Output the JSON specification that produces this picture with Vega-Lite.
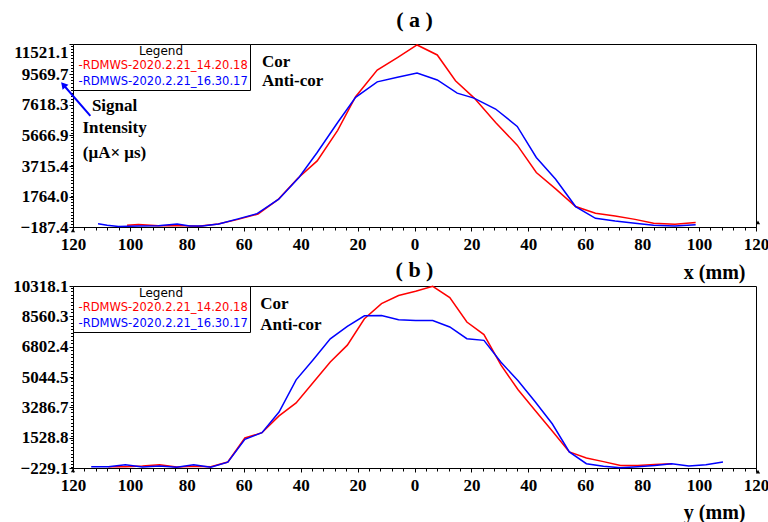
{
  "$schema": "https://vega.github.io/schema/vega-lite/v6.json",
  "background": "white",
  "padding": {"left": 12, "top": 8, "right": 5, "bottom": 2},
  "bounds": "flush",
  "spacing": 59,
  "resolve": {"legend": {"color": "independent"}, "scale": {"y": "independent"}},
  "config": {
    "view": {"stroke": "black", "strokeWidth": 1},
    "axis": {
      "labelFont": "Liberation Serif", "labelFontWeight": "bold", "labelFontSize": 17, "labelColor": "black",
      "domainColor": "black", "tickColor": "black", "grid": false, "labelOverlap": false,
      "titleFont": "Liberation Serif", "titleFontWeight": "bold", "titleFontSize": 20, "titleColor": "black"
    },
    "title": {"font": "Liberation Serif", "fontWeight": "bold", "fontSize": 22, "color": "black", "offset": 10},
    "legend": {
      "orient": "top-left", "offset": 0, "padding": 2, "strokeColor": "black", "fillColor": "white",
      "titleFont": "DejaVu Sans", "titleFontSize": 12, "titleFontWeight": "normal", "titleColor": "black",
      "titleAnchor": "middle", "titlePadding": 2,
      "labelFont": "DejaVu Sans", "labelFontSize": 11.5, "labelOffset": 0, "labelLimit": 400,
      "symbolSize": 0, "symbolOpacity": 0, "symbolStrokeWidth": 0, "rowPadding": 3.5
    }
  },
  "datasets": {
    "a": [
      {"s": "RDMWS-2020.2.21_14.20.18", "x": -101, "v": -80},
      {"s": "RDMWS-2020.2.21_14.20.18", "x": -97, "v": -30},
      {"s": "RDMWS-2020.2.21_14.20.18", "x": -90, "v": -100},
      {"s": "RDMWS-2020.2.21_14.20.18", "x": -83, "v": -90},
      {"s": "RDMWS-2020.2.21_14.20.18", "x": -76, "v": -140},
      {"s": "RDMWS-2020.2.21_14.20.18", "x": -69, "v": 10},
      {"s": "RDMWS-2020.2.21_14.20.18", "x": -62, "v": 300},
      {"s": "RDMWS-2020.2.21_14.20.18", "x": -55, "v": 640},
      {"s": "RDMWS-2020.2.21_14.20.18", "x": -48, "v": 1560},
      {"s": "RDMWS-2020.2.21_14.20.18", "x": -41, "v": 2930},
      {"s": "RDMWS-2020.2.21_14.20.18", "x": -34.2, "v": 4040},
      {"s": "RDMWS-2020.2.21_14.20.18", "x": -27, "v": 6000},
      {"s": "RDMWS-2020.2.21_14.20.18", "x": -20.7, "v": 8150},
      {"s": "RDMWS-2020.2.21_14.20.18", "x": -13.1, "v": 9850},
      {"s": "RDMWS-2020.2.21_14.20.18", "x": -6, "v": 10650},
      {"s": "RDMWS-2020.2.21_14.20.18", "x": 0.9, "v": 11460},
      {"s": "RDMWS-2020.2.21_14.20.18", "x": 8, "v": 10820},
      {"s": "RDMWS-2020.2.21_14.20.18", "x": 14.4, "v": 9170},
      {"s": "RDMWS-2020.2.21_14.20.18", "x": 21, "v": 8060},
      {"s": "RDMWS-2020.2.21_14.20.18", "x": 28.5, "v": 6500},
      {"s": "RDMWS-2020.2.21_14.20.18", "x": 36.1, "v": 5050},
      {"s": "RDMWS-2020.2.21_14.20.18", "x": 42.8, "v": 3300},
      {"s": "RDMWS-2020.2.21_14.20.18", "x": 49.6, "v": 2250},
      {"s": "RDMWS-2020.2.21_14.20.18", "x": 56.6, "v": 1120},
      {"s": "RDMWS-2020.2.21_14.20.18", "x": 63.6, "v": 690},
      {"s": "RDMWS-2020.2.21_14.20.18", "x": 70.5, "v": 510},
      {"s": "RDMWS-2020.2.21_14.20.18", "x": 77.5, "v": 300},
      {"s": "RDMWS-2020.2.21_14.20.18", "x": 84, "v": 50},
      {"s": "RDMWS-2020.2.21_14.20.18", "x": 91.5, "v": -10},
      {"s": "RDMWS-2020.2.21_14.20.18", "x": 98.8, "v": 95},
      {"s": "RDMWS-2020.2.21_16.30.17", "x": -111.2, "v": 20},
      {"s": "RDMWS-2020.2.21_16.30.17", "x": -108, "v": -80},
      {"s": "RDMWS-2020.2.21_16.30.17", "x": -104, "v": -150},
      {"s": "RDMWS-2020.2.21_16.30.17", "x": -97, "v": -130},
      {"s": "RDMWS-2020.2.21_16.30.17", "x": -90, "v": -110},
      {"s": "RDMWS-2020.2.21_16.30.17", "x": -83.4, "v": 10},
      {"s": "RDMWS-2020.2.21_16.30.17", "x": -79, "v": -120},
      {"s": "RDMWS-2020.2.21_16.30.17", "x": -74.6, "v": -130},
      {"s": "RDMWS-2020.2.21_16.30.17", "x": -68.8, "v": 5},
      {"s": "RDMWS-2020.2.21_16.30.17", "x": -61.7, "v": 350},
      {"s": "RDMWS-2020.2.21_16.30.17", "x": -55.3, "v": 670},
      {"s": "RDMWS-2020.2.21_16.30.17", "x": -47.7, "v": 1590},
      {"s": "RDMWS-2020.2.21_16.30.17", "x": -40.6, "v": 2980},
      {"s": "RDMWS-2020.2.21_16.30.17", "x": -34.2, "v": 4580},
      {"s": "RDMWS-2020.2.21_16.30.17", "x": -27, "v": 6500},
      {"s": "RDMWS-2020.2.21_16.30.17", "x": -20.7, "v": 8110},
      {"s": "RDMWS-2020.2.21_16.30.17", "x": -13.1, "v": 9100},
      {"s": "RDMWS-2020.2.21_16.30.17", "x": -6, "v": 9400},
      {"s": "RDMWS-2020.2.21_16.30.17", "x": 0.9, "v": 9670},
      {"s": "RDMWS-2020.2.21_16.30.17", "x": 8, "v": 9220},
      {"s": "RDMWS-2020.2.21_16.30.17", "x": 15, "v": 8380},
      {"s": "RDMWS-2020.2.21_16.30.17", "x": 20.9, "v": 8060},
      {"s": "RDMWS-2020.2.21_16.30.17", "x": 28.5, "v": 7360},
      {"s": "RDMWS-2020.2.21_16.30.17", "x": 36.1, "v": 6250},
      {"s": "RDMWS-2020.2.21_16.30.17", "x": 42.8, "v": 4260},
      {"s": "RDMWS-2020.2.21_16.30.17", "x": 49.6, "v": 2870},
      {"s": "RDMWS-2020.2.21_16.30.17", "x": 56.6, "v": 1120},
      {"s": "RDMWS-2020.2.21_16.30.17", "x": 63.6, "v": 370},
      {"s": "RDMWS-2020.2.21_16.30.17", "x": 70.5, "v": 200},
      {"s": "RDMWS-2020.2.21_16.30.17", "x": 77.5, "v": 60},
      {"s": "RDMWS-2020.2.21_16.30.17", "x": 84, "v": -80},
      {"s": "RDMWS-2020.2.21_16.30.17", "x": 91.5, "v": -120},
      {"s": "RDMWS-2020.2.21_16.30.17", "x": 98.8, "v": -40}
    ],
    "b": [
      {"s": "RDMWS-2020.2.21_14.20.18", "x": -107.6, "v": -160},
      {"s": "RDMWS-2020.2.21_14.20.18", "x": -101.6, "v": -150},
      {"s": "RDMWS-2020.2.21_14.20.18", "x": -95.6, "v": -120},
      {"s": "RDMWS-2020.2.21_14.20.18", "x": -89.6, "v": -38},
      {"s": "RDMWS-2020.2.21_14.20.18", "x": -83.6, "v": -170},
      {"s": "RDMWS-2020.2.21_14.20.18", "x": -77.6, "v": -130},
      {"s": "RDMWS-2020.2.21_14.20.18", "x": -71.6, "v": -150},
      {"s": "RDMWS-2020.2.21_14.20.18", "x": -65.6, "v": 120},
      {"s": "RDMWS-2020.2.21_14.20.18", "x": -59.6, "v": 1509},
      {"s": "RDMWS-2020.2.21_14.20.18", "x": -53.6, "v": 1816},
      {"s": "RDMWS-2020.2.21_14.20.18", "x": -47.6, "v": 2790},
      {"s": "RDMWS-2020.2.21_14.20.18", "x": -41.6, "v": 3540},
      {"s": "RDMWS-2020.2.21_14.20.18", "x": -35.6, "v": 4730},
      {"s": "RDMWS-2020.2.21_14.20.18", "x": -29.6, "v": 5910},
      {"s": "RDMWS-2020.2.21_14.20.18", "x": -23.6, "v": 6890},
      {"s": "RDMWS-2020.2.21_14.20.18", "x": -17.6, "v": 8420},
      {"s": "RDMWS-2020.2.21_14.20.18", "x": -11.6, "v": 9300},
      {"s": "RDMWS-2020.2.21_14.20.18", "x": -5.6, "v": 9770},
      {"s": "RDMWS-2020.2.21_14.20.18", "x": 0.4, "v": 10010},
      {"s": "RDMWS-2020.2.21_14.20.18", "x": 6.4, "v": 10300},
      {"s": "RDMWS-2020.2.21_14.20.18", "x": 12.4, "v": 9650},
      {"s": "RDMWS-2020.2.21_14.20.18", "x": 18.4, "v": 8232},
      {"s": "RDMWS-2020.2.21_14.20.18", "x": 24.4, "v": 7500},
      {"s": "RDMWS-2020.2.21_14.20.18", "x": 30.4, "v": 5730},
      {"s": "RDMWS-2020.2.21_14.20.18", "x": 36.4, "v": 4310},
      {"s": "RDMWS-2020.2.21_14.20.18", "x": 42.4, "v": 3100},
      {"s": "RDMWS-2020.2.21_14.20.18", "x": 48.4, "v": 1920},
      {"s": "RDMWS-2020.2.21_14.20.18", "x": 54.4, "v": 700},
      {"s": "RDMWS-2020.2.21_14.20.18", "x": 60.4, "v": 350},
      {"s": "RDMWS-2020.2.21_14.20.18", "x": 66.4, "v": 140},
      {"s": "RDMWS-2020.2.21_14.20.18", "x": 72.4, "v": -80},
      {"s": "RDMWS-2020.2.21_14.20.18", "x": 78.4, "v": -78},
      {"s": "RDMWS-2020.2.21_14.20.18", "x": 84.4, "v": -30},
      {"s": "RDMWS-2020.2.21_14.20.18", "x": 90.4, "v": 20},
      {"s": "RDMWS-2020.2.21_16.30.17", "x": -113.6, "v": -154},
      {"s": "RDMWS-2020.2.21_16.30.17", "x": -107.6, "v": -150},
      {"s": "RDMWS-2020.2.21_16.30.17", "x": -101.6, "v": -40},
      {"s": "RDMWS-2020.2.21_16.30.17", "x": -95.6, "v": -170},
      {"s": "RDMWS-2020.2.21_16.30.17", "x": -89.6, "v": -110},
      {"s": "RDMWS-2020.2.21_16.30.17", "x": -83.6, "v": -190},
      {"s": "RDMWS-2020.2.21_16.30.17", "x": -77.6, "v": -40},
      {"s": "RDMWS-2020.2.21_16.30.17", "x": -71.6, "v": -190},
      {"s": "RDMWS-2020.2.21_16.30.17", "x": -65.6, "v": 110},
      {"s": "RDMWS-2020.2.21_16.30.17", "x": -59.6, "v": 1430},
      {"s": "RDMWS-2020.2.21_16.30.17", "x": -53.6, "v": 1816},
      {"s": "RDMWS-2020.2.21_16.30.17", "x": -47.6, "v": 3016},
      {"s": "RDMWS-2020.2.21_16.30.17", "x": -41.6, "v": 4880},
      {"s": "RDMWS-2020.2.21_16.30.17", "x": -35.6, "v": 6046},
      {"s": "RDMWS-2020.2.21_16.30.17", "x": -29.6, "v": 7260},
      {"s": "RDMWS-2020.2.21_16.30.17", "x": -23.6, "v": 7980},
      {"s": "RDMWS-2020.2.21_16.30.17", "x": -17.6, "v": 8590},
      {"s": "RDMWS-2020.2.21_16.30.17", "x": -11.6, "v": 8613},
      {"s": "RDMWS-2020.2.21_16.30.17", "x": -5.6, "v": 8362},
      {"s": "RDMWS-2020.2.21_16.30.17", "x": 0.4, "v": 8320},
      {"s": "RDMWS-2020.2.21_16.30.17", "x": 6.4, "v": 8320},
      {"s": "RDMWS-2020.2.21_16.30.17", "x": 12.4, "v": 7942},
      {"s": "RDMWS-2020.2.21_16.30.17", "x": 18.4, "v": 7264},
      {"s": "RDMWS-2020.2.21_16.30.17", "x": 24.4, "v": 7168},
      {"s": "RDMWS-2020.2.21_16.30.17", "x": 30.4, "v": 5900},
      {"s": "RDMWS-2020.2.21_16.30.17", "x": 36.4, "v": 4825},
      {"s": "RDMWS-2020.2.21_16.30.17", "x": 42.4, "v": 3608},
      {"s": "RDMWS-2020.2.21_16.30.17", "x": 48.4, "v": 2334},
      {"s": "RDMWS-2020.2.21_16.30.17", "x": 54.4, "v": 700},
      {"s": "RDMWS-2020.2.21_16.30.17", "x": 60.4, "v": 20},
      {"s": "RDMWS-2020.2.21_16.30.17", "x": 66.4, "v": -130},
      {"s": "RDMWS-2020.2.21_16.30.17", "x": 72.4, "v": -212},
      {"s": "RDMWS-2020.2.21_16.30.17", "x": 78.4, "v": -150},
      {"s": "RDMWS-2020.2.21_16.30.17", "x": 84.4, "v": -90},
      {"s": "RDMWS-2020.2.21_16.30.17", "x": 90.4, "v": 20},
      {"s": "RDMWS-2020.2.21_16.30.17", "x": 96.4, "v": -113},
      {"s": "RDMWS-2020.2.21_16.30.17", "x": 102.4, "v": -38},
      {"s": "RDMWS-2020.2.21_16.30.17", "x": 108.4, "v": 118}
    ],
    "notesA": [
      {"t": "Cor", "x": -53.6, "v": 10368},
      {"t": "Anti-cor", "x": -53.6, "v": 9150}
    ],
    "notesB": [
      {"t": "Cor", "x": -54.2, "v": 9263},
      {"t": "Anti-cor", "x": -54.2, "v": 8075}
    ],
    "signal": [
      {"t": "Signal", "x": -105.4, "v": 7548},
      {"t": "Intensity", "x": -105.4, "v": 6138},
      {"t": "(μA× μs)", "x": -105.4, "v": 4536}
    ],
    "arrow": [
      {"x": -113.9, "v": 6927, "x2": -123.4, "v2": 8913}
    ],
    "endsA": [
      {"x": -120, "v": -399},
      {"x": 120.7, "v": 114}
    ],
    "endsB": [
      {"x": -120, "v": -368},
      {"x": 120.7, "v": -440}
    ]
  },
  "vconcat": [
    {
      "width": 683, "height": 183,
      "title": {"text": "( a )"},
      "resolve": {"axis": {"y": "independent", "x": "independent"}},
      "layer": [
        {
          "data": {"name": "a"},
          "mark": {"type": "line", "strokeWidth": 1.5, "clip": false},
          "encoding": {
            "x": {"field": "x", "type": "quantitative",
              "scale": {"domain": [-120, 120], "nice": false, "zero": false},
              "axis": {"values": [-120, -100, -80, -60, -40, -20, 0, 20, 40, 60, 80, 100, 120],
                "labelExpr": "'' + abs(datum.value)",
                "labelOverlap": false, "labelFlush": false, "tickSize": 4, "labelPadding": 5,
                "title": "x (mm)", "titleAlign": "right", "titleAnchor": "end", "titleX": 672, "titleY": 51, "titleBaseline": "alphabetic"}},
            "y": {"field": "v", "type": "quantitative",
              "scale": {"domain": [-187.4, 11521.1], "nice": false, "zero": false},
              "axis": {"values": [-187.4, 1764.0, 3715.4, 5666.9, 7618.3, 9569.7, 11521.1], "format": ".1f",
                "tickSize": 4, "labelPadding": 1, "title": null, "labelFlush": false,
                "labelBaseline": {"condition": {"test": "datum.value > 11000", "value": "top"}, "value": "middle"}}},
            "color": {"field": "s", "type": "nominal",
              "scale": {"domain": ["RDMWS-2020.2.21_14.20.18", "RDMWS-2020.2.21_16.30.17"], "range": ["#ff0000", "#0000ff"]},
              "legend": {"title": "Legend", "labelExpr": "'-' + datum.label", "offset": 0, "labelOffset": -8,
                "encode": {"labels": {"update": {"fill": {"signal": "indexof(datum.value, '14.20') >= 0 ? '#ff0000' : '#0000ff'"}}}}}}
          }
        },
        {
          "data": {"name": "a"},
          "mark": {"type": "point", "opacity": 0},
          "encoding": {
            "x": {"field": "x", "type": "quantitative",
              "axis": {"orient": "bottom", "values": [-120,-116,-112,-108,-104,-100,-96,-92,-88,-84,-80,-76,-72,-68,-64,-60,-56,-52,-48,-44,-40,-36,-32,-28,-24,-20,-16,-12,-8,-4,0,4,8,12,16,20,24,28,32,36,40,44,48,52,56,60,64,68,72,76,80,84,88,92,96,100,104,108,112,116,120],
                "labels": false, "domain": false, "tickSize": 3, "title": null}},
            "y": {"field": "v", "type": "quantitative",
              "axis": {"orient": "left", "tickCount": 60, "labels": false, "domain": false, "tickSize": 2.5, "title": null}}
          }
        },
        {
          "data": {"name": "notesA"},
          "mark": {"type": "text", "align": "left", "baseline": "middle", "font": "Liberation Serif", "fontWeight": "bold", "fontSize": 17, "color": "black"},
          "encoding": {
            "x": {"field": "x", "type": "quantitative", "axis": null},
            "y": {"field": "v", "type": "quantitative", "axis": null},
            "text": {"field": "t"}
          }
        },
        {
          "data": {"name": "signal"},
          "mark": {"type": "text", "align": "center", "baseline": "middle", "font": "Liberation Serif", "fontWeight": "bold", "fontSize": 17, "color": "black"},
          "encoding": {
            "x": {"field": "x", "type": "quantitative", "axis": null},
            "y": {"field": "v", "type": "quantitative", "axis": null},
            "text": {"field": "t"}
          }
        },
        {
          "data": {"name": "arrow"},
          "mark": {"type": "rule", "color": "#0000ff", "strokeWidth": 2, "clip": false},
          "encoding": {
            "x": {"field": "x", "type": "quantitative", "axis": null},
            "y": {"field": "v", "type": "quantitative", "axis": null},
            "x2": {"field": "x2"},
            "y2": {"field": "v2"}
          }
        },
        {
          "data": {"name": "arrow"},
          "mark": {"type": "point", "shape": "triangle-up", "filled": true, "color": "#0000ff", "opacity": 1, "size": 60, "angle": 319, "clip": false},
          "encoding": {
            "x": {"field": "x2", "type": "quantitative", "axis": null},
            "y": {"field": "v2", "type": "quantitative", "axis": null}
          }
        },
        {
          "data": {"name": "endsA"},
          "mark": {"type": "point", "shape": "triangle-up", "filled": true, "color": "black", "opacity": 1, "size": 18, "clip": false},
          "encoding": {
            "x": {"field": "x", "type": "quantitative", "axis": null},
            "y": {"field": "v", "type": "quantitative", "axis": null}
          }
        }
      ]
    },
    {
      "width": 683, "height": 182,
      "title": {"text": "( b )", "offset": -5},
      "resolve": {"axis": {"y": "independent", "x": "independent"}},
      "layer": [
        {
          "data": {"name": "b"},
          "mark": {"type": "line", "strokeWidth": 1.5, "clip": false},
          "encoding": {
            "x": {"field": "x", "type": "quantitative",
              "scale": {"domain": [-120, 120], "nice": false, "zero": false},
              "axis": {"values": [-120, -100, -80, -60, -40, -20, 0, 20, 40, 60, 80, 100, 120],
                "labelExpr": "'' + abs(datum.value)",
                "labelOverlap": false, "labelFlush": false, "tickSize": 4, "labelPadding": 5,
                "title": "y (mm)", "titleAlign": "right", "titleAnchor": "end", "titleX": 672, "titleY": 50, "titleBaseline": "alphabetic"}},
            "y": {"field": "v", "type": "quantitative",
              "scale": {"domain": [-229.1, 10318.1], "nice": false, "zero": false},
              "axis": {"values": [-229.1, 1528.8, 3286.7, 5044.5, 6802.4, 8560.3, 10318.1], "format": ".1f",
                "tickSize": 4, "labelPadding": 1, "title": null, "labelFlush": false}},
            "color": {"field": "s", "type": "nominal",
              "scale": {"domain": ["RDMWS-2020.2.21_14.20.18", "RDMWS-2020.2.21_16.30.17"], "range": ["#ff0000", "#0000ff"]},
              "legend": {"title": "Legend", "labelExpr": "'-' + datum.label", "offset": 0, "labelOffset": -8,
                "encode": {"labels": {"update": {"fill": {"signal": "indexof(datum.value, '14.20') >= 0 ? '#ff0000' : '#0000ff'"}}}}}}
          }
        },
        {
          "data": {"name": "b"},
          "mark": {"type": "point", "opacity": 0},
          "encoding": {
            "x": {"field": "x", "type": "quantitative",
              "axis": {"orient": "bottom", "values": [-120,-116,-112,-108,-104,-100,-96,-92,-88,-84,-80,-76,-72,-68,-64,-60,-56,-52,-48,-44,-40,-36,-32,-28,-24,-20,-16,-12,-8,-4,0,4,8,12,16,20,24,28,32,36,40,44,48,52,56,60,64,68,72,76,80,84,88,92,96,100,104,108,112,116,120],
                "labels": false, "domain": false, "tickSize": 3, "title": null}},
            "y": {"field": "v", "type": "quantitative",
              "axis": {"orient": "left", "tickCount": 60, "labels": false, "domain": false, "tickSize": 2.5, "title": null}}
          }
        },
        {
          "data": {"name": "notesB"},
          "mark": {"type": "text", "align": "left", "baseline": "middle", "font": "Liberation Serif", "fontWeight": "bold", "fontSize": 17, "color": "black"},
          "encoding": {
            "x": {"field": "x", "type": "quantitative", "axis": null},
            "y": {"field": "v", "type": "quantitative", "axis": null},
            "text": {"field": "t"}
          }
        },
        {
          "data": {"name": "endsB"},
          "mark": {"type": "point", "shape": "triangle-up", "filled": true, "color": "black", "opacity": 1, "size": 18, "clip": false},
          "encoding": {
            "x": {"field": "x", "type": "quantitative", "axis": null},
            "y": {"field": "v", "type": "quantitative", "axis": null}
          }
        }
      ]
    }
  ]
}
